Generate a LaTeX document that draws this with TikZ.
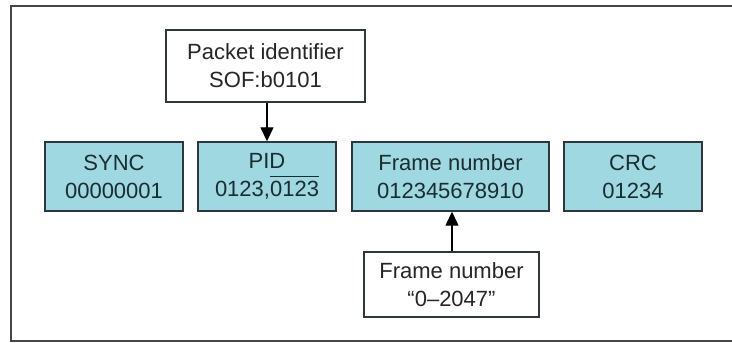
\documentclass[tikz,border=0pt]{standalone}
\usepackage{fontspec}
\setmainfont{Liberation Sans}
\usetikzlibrary{arrows.meta}
\definecolor{boxfill}{RGB}{160,216,226}
\definecolor{boxline}{RGB}{45,55,60}
\definecolor{txtdark}{RGB}{25,45,50}
\definecolor{framecol}{RGB}{70,70,70}
\newcommand\myover[1]{\setbox0\hbox{#1}\rlap{\rule[\dimexpr\ht0+4pt\relax]{\wd0}{1.3pt}}\box0}
\begin{document}
\begin{tikzpicture}[x=1pt,y=-1pt,
  field/.style={draw=boxline, line width=1.4pt, fill=boxfill, text=txtdark,
    align=center, inner sep=0pt, minimum height=69pt,
    font=\fontsize{22}{28}\selectfont},
  notebox/.style={draw=boxline, line width=1.4pt, fill=white, text=black!85,
    align=center, inner sep=0pt, font=\fontsize{22}{28}\selectfont},
  pointer/.style={draw=black, line width=1.3pt, -{Triangle[width=13pt,length=14pt]}}]
\useasboundingbox (0,0) rectangle (732,343);
\draw[framecol, line width=2pt] (11,6) rectangle (745,341);
\node[field, minimum width=138pt] (sync) at (114,176.5) {SYNC\\00000001};
\node[field, minimum width=138pt] (pid) at (267,176.5) {PID\\0123,\myover{0123}};
\node[field, minimum width=197pt] (fn) at (450.5,176.5) {Frame number\\012345678910};
\node[field, minimum width=138pt] (crc) at (633,176.5) {CRC\\01234};
\node[notebox, minimum width=199pt, minimum height=72pt] (pkt) at (265.5,66) {Packet identifier\\SOF:b0101};
\node[notebox, minimum width=175pt, minimum height=65pt] (fnote) at (451.5,284.5) {Frame number\\“0–2047”};
\draw[pointer] (pkt.south -| 267,0) -- (pid.north -| 267,0);
\draw[pointer] (fnote.north -| 452,0) -- (fn.south -| 452,0);
\end{tikzpicture}
\end{document}
